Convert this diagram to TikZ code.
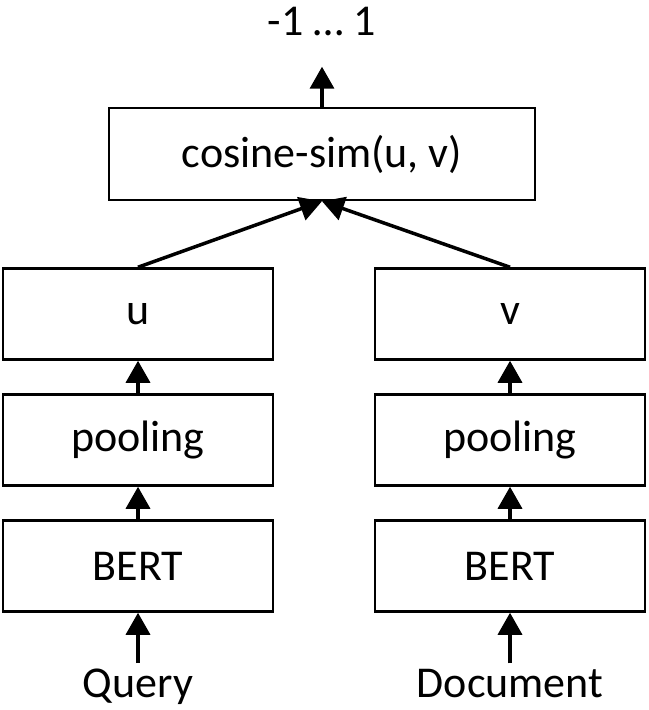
\documentclass[tikz,border=0pt]{standalone}
\usepackage{fontspec}
\setmainfont{Carlito}
\usetikzlibrary{arrows.meta}
\tikzset{
  block/.style={draw, line width=1.25pt, minimum width=135pt, minimum height=45.5pt, inner sep=0pt},
  arr/.style={line width=1.75pt, -{Triangle[length=11pt,width=12pt]}},
}
\begin{document}
\begin{tikzpicture}[x=0.5pt,y=-0.5pt,font=\fontsize{22}{26}\selectfont]
                \useasboundingbox (0,0) rectangle (648,710);
                \node[block, minimum width=213pt, minimum height=46pt] (cos) at (322,154) {cosine-sim(u, v)};
                \node[inner xsep=0pt, inner ysep=15pt] (out) at (322,22) {-1 … 1};
                \node[block] (u) at (138,314) {u};
                \node[block] (poolq) at (138,440) {pooling};
                \node[block] (bertq) at (138,566) {BERT};
                \node[block] (v) at (510,314) {v};
                \node[block] (poold) at (510,440) {pooling};
                \node[block] (bertd) at (510,566) {BERT};
                \node[inner sep=2.5pt, anchor=base] (query) at (138,697) {Query};
                \node[inner sep=2.5pt, anchor=base] (doc) at (510,697) {Document};
                \draw[arr] (query.north)--(bertq.south);
                \draw[arr] (bertq.north)--(poolq.south);
                \draw[arr] (poolq.north)--(u.south);
                \draw[arr] (doc.north)--(bertd.south);
                \draw[arr] (bertd.north)--(poold.south);
                \draw[arr] (poold.north)--(v.south);
                \draw[arr] (u.north)--(cos.south);
                \draw[arr] (v.north)--(cos.south);
                \draw[arr] (cos.north)--(out.south);
            \end{tikzpicture}
\end{document}
